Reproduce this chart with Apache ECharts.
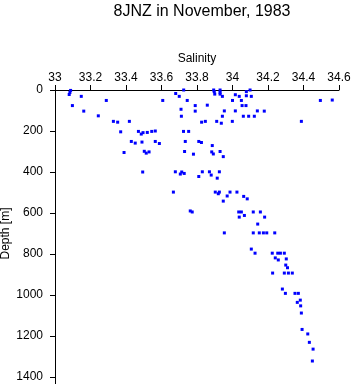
<!DOCTYPE html>
<html>
<head>
<meta charset="utf-8">
<script src="https://cdn.jsdelivr.net/npm/echarts@6/dist/echarts.min.js"></script>
<style>
  html, body { margin: 0; padding: 0; background: #fff; }
  #main { width: 353px; height: 384px; }
</style>
</head>
<body>
<div id="main"></div>
<script>
// salinity / depth pairs
const salinity = [
  33.088, 33.084, 33.08, 33.098, 33.148, 33.162, 33.244, 33.289, 33.329, 33.353,
  33.419, 33.37, 33.47, 33.486, 33.496, 33.52, 33.545, 33.565, 33.43, 33.452,
  33.49, 33.565, 33.588, 33.389, 33.503, 33.514, 33.53, 33.494, 33.667, 33.725,
  33.68, 33.70, 33.745, 33.607, 33.71, 33.79, 33.79, 33.712, 33.724, 33.753,
  33.734, 33.73, 33.78, 33.81, 33.678, 33.714, 33.706, 33.728, 33.81, 33.858,
  33.894, 33.897, 33.90, 33.93, 33.93, 33.93, 33.943, 34.016, 34.038, 34.0,
  34.05, 34.078, 34.078, 34.099, 34.106, 34.054, 34.076, 33.954, 34.016, 34.14,
  34.179, 33.943, 34.061, 34.091, 34.123, 33.826, 33.847, 33.911, 33.937, 33.999,
  34.495, 34.562, 34.388, 33.825, 33.886, 33.883, 33.892, 33.93, 33.948, 33.83,
  33.87, 33.88, 33.926, 33.914, 33.903, 33.926, 33.92, 33.97, 33.986, 34.025,
  34.063, 34.083, 33.948, 33.762, 33.773, 34.035, 34.05, 34.067, 34.038, 34.117,
  34.157, 34.181, 34.142, 33.954, 34.117, 34.151, 34.174, 34.193, 34.238, 34.106,
  34.127, 34.224, 34.255, 34.27, 34.292, 34.241, 34.258, 34.303, 34.30, 34.31,
  34.226, 34.292, 34.315, 34.337, 34.281, 34.298, 34.352, 34.371, 34.382, 34.365,
  34.384, 34.388, 34.392, 34.424, 34.433, 34.454, 34.45
];
const depth = [
  2, 12, 22, 76, 31, 103, 126, 51, 153, 157,
  153, 204, 202, 215, 208, 207, 202, 200, 251, 259,
  254, 251, 261, 305, 299, 308, 302, 400, 498, 0,
  17, 31, 51, 51, 94, 76, 103, 128, 202, 202,
  251, 300, 313, 251, 399, 400, 410, 407, 422, 74,
  0, 8, 20, 0, 12, 20, 31, 23, 31, 51,
  51, 8, 28, 0, 31, 76, 76, 102, 102, 102,
  103, 128, 128, 128, 128, 157, 153, 153, 162, 153,
  51, 49, 153, 256, 271, 302, 312, 300, 325, 399,
  399, 415, 399, 430, 498, 498, 506, 517, 498, 498,
  519, 531, 542, 590, 595, 595, 595, 612, 620, 595,
  595, 620, 654, 697, 697, 697, 697, 697, 697, 776,
  796, 796, 796, 796, 796, 819, 829, 824, 854, 867,
  893, 893, 893, 893, 971, 992, 992, 992, 1025, 1036,
  1053, 1088, 1168, 1190, 1231, 1264, 1322
];

const chart = echarts.init(document.getElementById("main"));
const font = "Liberation Sans, Arial, sans-serif";
const axisCommon = {
  axisLine: { show: true, lineStyle: { color: "#000", width: 1 } },
  axisTick: { show: true, inside: false, length: 5, lineStyle: { color: "#000" } },
  splitLine: { show: false },
  nameMoveOverlap: false,
  nameTextStyle: { color: "#000", fontSize: 12, fontFamily: font },
};

chart.setOption({
  animation: false,
  backgroundColor: "#fff",
  title: {
    text: "8JNZ in November, 1983",
    left: 197,
    top: -1,
    textAlign: "center",
    textStyle: { color: "#000", fontSize: 16, fontWeight: "normal", fontFamily: font },
  },
  grid: { left: 55, right: 14, top: 90, bottom: 7, containLabel: false, outerBoundsMode: "none" },
  // y axis line runs on a little past 1400 in the original
  graphic: [
    {
      type: "line",
      shape: { x1: 55.5, y1: 377, x2: 55.5, y2: 384 },
      style: { stroke: "#000", lineWidth: 1 },
    },
  ],
  xAxis: Object.assign({}, axisCommon, {
    type: "value",
    position: "top",
    min: 33,
    max: 34.6,
    interval: 0.2,
    name: "Salinity",
    nameLocation: "middle",
    nameGap: 25,
    axisLabel: {
      color: "#000",
      fontSize: 12,
      fontFamily: font,
      margin: 6,
      formatter: (v) => String(Math.round(v * 10) / 10),
    },
  }),
  yAxis: Object.assign({}, axisCommon, {
    type: "value",
    inverse: true,
    min: 0,
    max: 1400,
    interval: 200,
    name: "Depth [m]",
    nameLocation: "middle",
    nameGap: 43,
    axisLabel: {
      color: "#000",
      fontSize: 12,
      fontFamily: font,
      margin: 12,
      formatter: (v) => String(v),
    },
  }),
  series: [
    {
      type: "scatter",
      symbol: "rect",
      symbolSize: 3,
      itemStyle: { color: "#0000ff", opacity: 1 },
      data: salinity.map((s, i) => [s, depth[i]]),
    },
  ],
});
</script>
</body>
</html>
